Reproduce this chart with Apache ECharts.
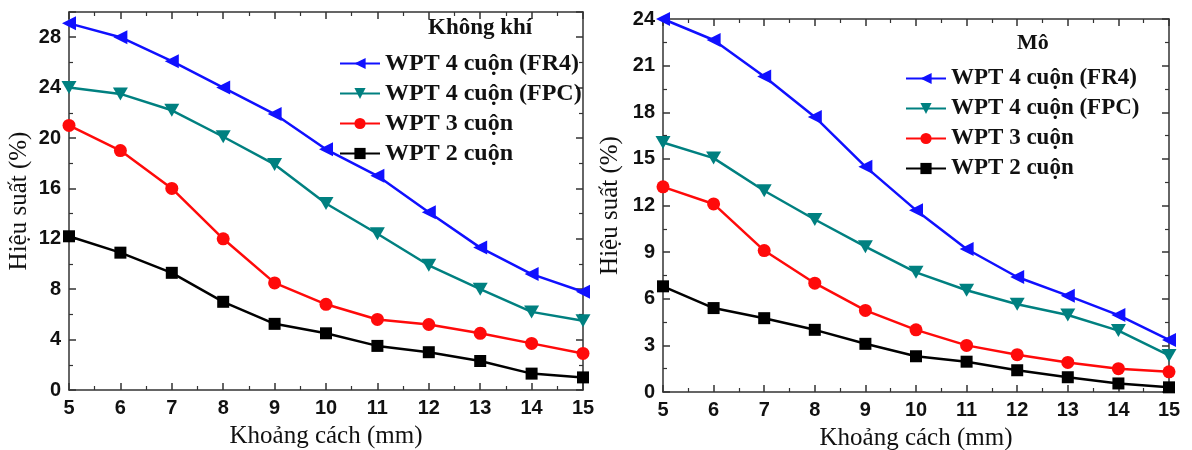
<!DOCTYPE html>
<html>
<head>
<meta charset="utf-8">
<script src="https://cdn.jsdelivr.net/npm/echarts@6/dist/echarts.min.js"></script>
<style>
html,body{margin:0;padding:0;background:#fff;}
#chart{width:1192px;height:450px;}
</style>
</head>
<body>
<div id="chart"></div>
<script>
// ---- Data ----
const distances = [5, 6, 7, 8, 9, 10, 11, 12, 13, 14, 15];
const seriesNames = ['WPT 4 cuộn (FR4)', 'WPT 4 cuộn (FPC)', 'WPT 3 cuộn', 'WPT 2 cuộn'];

// Không khí (air)
const airFR4 = [29.1, 28.0, 26.1, 24.0, 21.9, 19.1, 17.0, 14.1, 11.3, 9.2, 7.8];
const airFPC = [24.0, 23.5, 22.2, 20.1, 17.9, 14.8, 12.4, 9.9, 8.0, 6.2, 5.5];
const air3 = [21.0, 19.0, 16.0, 12.0, 8.5, 6.8, 5.6, 5.2, 4.5, 3.7, 2.9];
const air2 = [12.2, 10.9, 9.3, 7.0, 5.25, 4.5, 3.5, 3.0, 2.3, 1.3, 1.0];

// Mô (tissue)
const tisFR4 = [24.0, 22.65, 20.3, 17.7, 14.5, 11.7, 9.2, 7.4, 6.2, 4.95, 3.35];
const tisFPC = [16.05, 15.05, 12.95, 11.1, 9.35, 7.7, 6.55, 5.65, 4.95, 3.95, 2.35];
const tis3 = [13.2, 12.1, 9.1, 7.0, 5.25, 4.0, 3.0, 2.4, 1.9, 1.5, 1.3];
const tis2 = [6.8, 5.4, 4.75, 4.0, 3.1, 2.3, 1.95, 1.4, 0.95, 0.55, 0.3];

const panelTitles = ['Không khí', 'Mô'];
const xTitle = 'Khoảng cách (mm)';
const yTitle = 'Hiệu suất (%)';

// ---- Styling ----
const colors = ['#1010ff', '#008080', '#ff0a0a', '#000000'];
const symbols = [
  'path://M0,50 L100,0 L100,100 Z',
  'path://M0,0 L100,0 L50,90 Z',
  'circle',
  'rect'
];
const symbolSizes = [[14, 14], [15, 13], 13, 12];

const frameColor = '#333';
const tickFont = {fontFamily: '"Liberation Sans", Arial, sans-serif', fontWeight: 'bold', fontSize: 20, color: '#111'};
const titleFont = {fontFamily: '"Liberation Serif", "Times New Roman", serif', fontSize: 25, color: '#111'};

function pairs(ys) { return distances.map((x, i) => [x, ys[i]]); }

const grids = [
  {left: 69, right: 1192 - 583, top: 12, bottom: 450 - 390, outerBoundsMode: 'none', containLabel: false},
  {left: 663, right: 1192 - 1169, top: 19, bottom: 450 - 392, outerBoundsMode: 'none', containLabel: false}
];
const yCfg = [{max: 30, interval: 4, nameGap: 37}, {max: 24, interval: 3, nameGap: 40}];

const xAxes = [], yAxes = [];
[0, 1].forEach(g => {
  xAxes.push({
    type: 'value', gridIndex: g, min: 5, max: 15, interval: 1, position: 'bottom',
    name: xTitle, nameLocation: 'middle', nameGap: 34, nameTextStyle: titleFont,
    axisLine: {show: true, lineStyle: {color: frameColor, width: 1.5}},
    axisTick: {show: true, inside: true, length: 7, lineStyle: {color: frameColor, width: 1.5}},
    minorTick: {show: true, splitNumber: 2, length: 4, lineStyle: {color: frameColor, width: 1.2}},
    axisLabel: Object.assign({margin: 8}, tickFont),
    splitLine: {show: false}
  });
  xAxes.push({
    type: 'value', gridIndex: g, min: 5, max: 15, interval: 1, position: 'top',
    axisLine: {show: true, onZero: false, lineStyle: {color: frameColor, width: 1.5}},
    axisTick: {show: true, inside: true, length: 7, lineStyle: {color: frameColor, width: 1.5}},
    minorTick: {show: true, splitNumber: 2, length: 4, lineStyle: {color: frameColor, width: 1.2}},
    axisLabel: {show: false}, splitLine: {show: false}
  });
  yAxes.push({
    type: 'value', gridIndex: g, min: 0, max: yCfg[g].max, interval: yCfg[g].interval, position: 'left',
    name: yTitle, nameLocation: 'middle', nameGap: yCfg[g].nameGap, nameTextStyle: titleFont,
    axisLine: {show: true, lineStyle: {color: frameColor, width: 1.5}},
    axisTick: {show: true, inside: true, length: 7, lineStyle: {color: frameColor, width: 1.5}},
    minorTick: {show: true, splitNumber: 2, length: 4, lineStyle: {color: frameColor, width: 1.2}},
    axisLabel: Object.assign({margin: 8, showMaxLabel: g === 1}, tickFont),
    splitLine: {show: false}
  });
  yAxes.push({
    type: 'value', gridIndex: g, min: 0, max: yCfg[g].max, interval: yCfg[g].interval, position: 'right',
    axisLine: {show: true, onZero: false, lineStyle: {color: frameColor, width: 1.5}},
    axisTick: {show: true, inside: true, length: 7, lineStyle: {color: frameColor, width: 1.5}},
    minorTick: {show: true, splitNumber: 2, length: 4, lineStyle: {color: frameColor, width: 1.2}},
    axisLabel: {show: false}, splitLine: {show: false}
  });
});

const panelData = [[airFR4, airFPC, air3, air2], [tisFR4, tisFPC, tis3, tis2]];
const series = [];
[0, 1].forEach(g => {
  panelData[g].forEach((ys, i) => {
    series.push({
      type: 'line', name: seriesNames[i],
      xAxisIndex: g * 2, yAxisIndex: g * 2,
      data: pairs(ys),
      symbol: symbols[i], symbolSize: symbolSizes[i],
      showAllSymbol: true, clip: false,
      z: 10 - i,
      lineStyle: {color: colors[i], width: 2.5},
      itemStyle: {color: colors[i]}
    });
  });
});

const legendCfg = [
  {left: 339, top: 51, size: 24},
  {left: 905, top: 66, size: 23}
];
const legends = legendCfg.map(p => ({
  data: seriesNames, orient: 'vertical', left: p.left, top: p.top,
  itemWidth: 40, itemHeight: 14, itemGap: 5,
  textStyle: {fontFamily: '"Liberation Serif", "Times New Roman", serif', fontWeight: 'bold', fontSize: p.size, lineHeight: 25, color: '#111'},
  selectedMode: false, padding: 0
}));

const chart = echarts.init(document.getElementById('chart'), null, {renderer: 'canvas'});
chart.setOption({
  backgroundColor: '#fff',
  animation: false,
  grid: grids,
  xAxis: xAxes,
  yAxis: yAxes,
  legend: legends,
  series: series,
  graphic: [
    {type: 'text', left: 428, top: 17, style: {text: panelTitles[0], font: 'bold 23px "Liberation Serif", serif', fill: '#111'}},
    {type: 'text', left: 1017, top: 32, style: {text: panelTitles[1], font: 'bold 22px "Liberation Serif", serif', fill: '#111'}}
  ]
});
</script>
</body>
</html>
